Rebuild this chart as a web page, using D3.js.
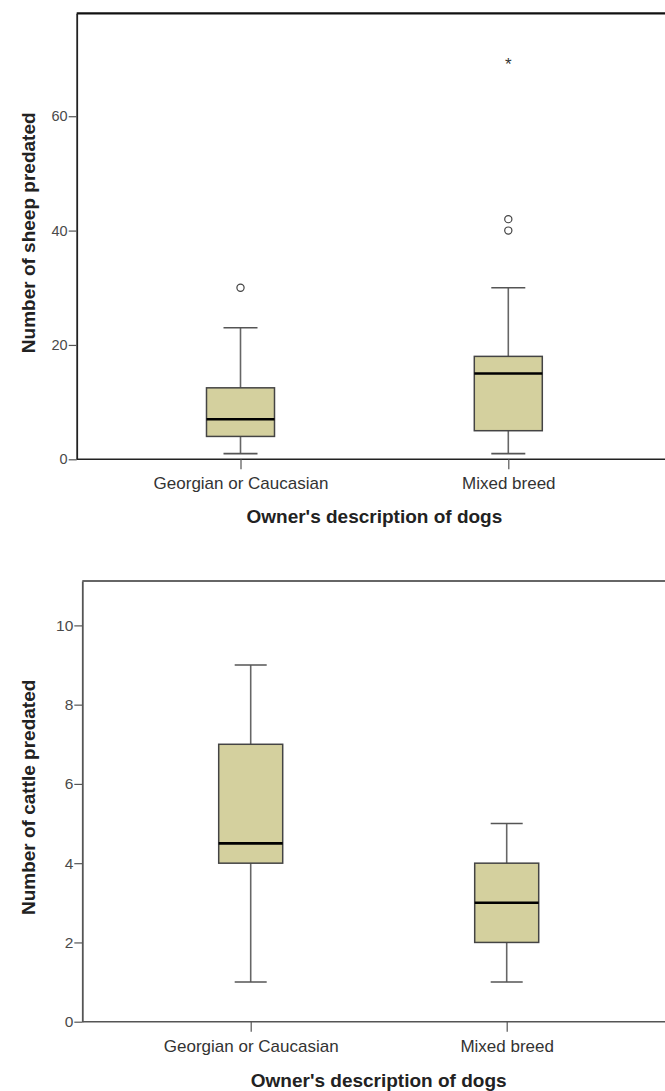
<!DOCTYPE html>
<html>
<head>
<meta charset="utf-8">
<script src="https://cdn.jsdelivr.net/npm/d3@7"></script>
<style>
  html, body { margin: 0; padding: 0; background: #fff; }
  svg { display: block; }
  text { font-family: "Liberation Sans", Arial, sans-serif; }
</style>
</head>
<body>
<svg id="chart" width="665" height="1091"></svg>
<script>
// ---------- data ----------
const categories = ["Georgian or Caucasian", "Mixed breed"];

// Chart 1: sheep predated
const sheepWhiskerLow  = [1, 1];
const sheepQ1          = [4, 5];
const sheepMedian      = [7, 15];
const sheepQ3          = [12.5, 18];
const sheepWhiskerHigh = [23, 30];
const sheepOutliers    = [[30], [40, 42]];
const sheepExtremes    = [[], [70]];
const sheepTicks       = [0, 20, 40, 60];

// Chart 2: cattle predated
const cattleWhiskerLow  = [1, 1];
const cattleQ1          = [4, 2];
const cattleMedian      = [4.5, 3];
const cattleQ3          = [7, 4];
const cattleWhiskerHigh = [9, 5];
const cattleOutliers    = [[], []];
const cattleExtremes    = [[], []];
const cattleTicks       = [0, 2, 4, 6, 8, 10];

const yTitleSheep  = "Number of sheep predated";
const yTitleCattle = "Number of cattle predated";
const xTitle       = "Owner's description of dogs";

// ---------- drawing ----------
const svg = d3.select("#chart");
const BOX_FILL = "#d4d09e";

function drawPanel(cfg) {
  const g = svg.append("g");
  const stats = categories.map((c, i) => ({
    cat: c,
    lo: cfg.lo[i], q1: cfg.q1[i], med: cfg.med[i], q3: cfg.q3[i], hi: cfg.hi[i],
    out: cfg.out[i], ext: cfg.ext[i]
  }));

  const y = d3.scaleLinear().domain(cfg.yDomain).range([cfg.bottom, cfg.top]);
  const x = d3.scalePoint().domain(categories).range(cfg.xCenters);

  // top frame line
  g.append("line")
    .attr("x1", cfg.left).attr("x2", 700)
    .attr("y1", cfg.top).attr("y2", cfg.top)
    .attr("stroke", cfg.frameColor).attr("stroke-width", cfg.frameWidth);

  // x axis baseline
  g.append("line")
    .attr("x1", cfg.left).attr("x2", 700)
    .attr("y1", cfg.bottom).attr("y2", cfg.bottom)
    .attr("stroke", cfg.axisColor).attr("stroke-width", 1.6);

  // y axis
  const yAxis = g.append("g")
    .attr("transform", `translate(${cfg.left},0)`)
    .call(d3.axisLeft(y).tickValues(cfg.ticks).tickSize(8).tickSizeOuter(0).tickPadding(1));
  yAxis.select(".domain").attr("stroke", cfg.axisColor).attr("stroke-width", 1.8);
  yAxis.selectAll(".tick line").attr("stroke", "#555").attr("stroke-width", 1.2);
  yAxis.selectAll(".tick text")
    .attr("fill", "#4a4a4a").attr("font-size", cfg.tickFont)
    .style("font-family", "'Liberation Sans', Arial, sans-serif");

  // x axis ticks + labels
  const xAxis = g.append("g")
    .attr("transform", `translate(0,${cfg.bottom})`)
    .call(d3.axisBottom(x).tickSize(10).tickPadding(8));
  xAxis.select(".domain").remove();
  xAxis.selectAll(".tick line").attr("stroke", "#555").attr("stroke-width", 1.2);
  xAxis.selectAll(".tick text")
    .attr("fill", "#333").attr("font-size", 17)
    .style("font-family", "'Liberation Sans', Arial, sans-serif");

  // axis titles
  g.append("text")
    .attr("transform", `translate(${cfg.yTitleX},${(cfg.top + cfg.bottom) / 2 + cfg.yTitleShift}) rotate(-90)`)
    .attr("text-anchor", "middle").attr("dy", "0.35em")
    .attr("font-size", 19).attr("font-weight", "bold").attr("fill", "#222")
    .text(cfg.yTitle);
  g.append("text")
    .attr("x", (cfg.xCenters[0] + cfg.xCenters[1]) / 2 + cfg.xTitleShift)
    .attr("y", cfg.bottom + cfg.xTitleOffset)
    .attr("text-anchor", "middle")
    .attr("font-size", 19).attr("font-weight", "bold").attr("fill", "#222")
    .text(xTitle);

  const bw = cfg.boxWidth, cw = cfg.capWidth;
  const boxes = g.selectAll("g.box").data(stats).join("g").attr("class", "box");

  // whiskers
  boxes.append("line")
    .attr("x1", d => x(d.cat)).attr("x2", d => x(d.cat))
    .attr("y1", d => y(d.lo)).attr("y2", d => y(d.q1))
    .attr("stroke", "#666").attr("stroke-width", 1.6);
  boxes.append("line")
    .attr("x1", d => x(d.cat)).attr("x2", d => x(d.cat))
    .attr("y1", d => y(d.q3)).attr("y2", d => y(d.hi))
    .attr("stroke", "#666").attr("stroke-width", 1.6);
  // caps
  boxes.append("line")
    .attr("x1", d => x(d.cat) - cw / 2).attr("x2", d => x(d.cat) + cw / 2)
    .attr("y1", d => y(d.lo)).attr("y2", d => y(d.lo))
    .attr("stroke", "#555").attr("stroke-width", 1.6);
  boxes.append("line")
    .attr("x1", d => x(d.cat) - cw / 2).attr("x2", d => x(d.cat) + cw / 2)
    .attr("y1", d => y(d.hi)).attr("y2", d => y(d.hi))
    .attr("stroke", "#555").attr("stroke-width", 1.6);
  // box
  boxes.append("rect")
    .attr("x", d => x(d.cat) - bw / 2).attr("width", bw)
    .attr("y", d => y(d.q3)).attr("height", d => y(d.q1) - y(d.q3))
    .attr("fill", BOX_FILL).attr("stroke", "#444").attr("stroke-width", 1.5);
  // median
  boxes.append("line")
    .attr("x1", d => x(d.cat) - bw / 2).attr("x2", d => x(d.cat) + bw / 2)
    .attr("y1", d => y(d.med)).attr("y2", d => y(d.med))
    .attr("stroke", "#000").attr("stroke-width", 2.6);
  // outliers
  boxes.selectAll("circle.out").data(d => d.out.map(v => ({cat: d.cat, v})))
    .join("circle").attr("class", "out")
    .attr("cx", d => x(d.cat)).attr("cy", d => y(d.v)).attr("r", 3.6)
    .attr("fill", "none").attr("stroke", "#444").attr("stroke-width", 1.2);
  // extremes
  boxes.selectAll("text.ext").data(d => d.ext.map(v => ({cat: d.cat, v})))
    .join("text").attr("class", "ext")
    .attr("x", d => x(d.cat)).attr("y", d => y(d.v))
    .attr("dy", "0.62em")
    .attr("text-anchor", "middle").attr("font-size", 17).attr("fill", "#333")
    .text("*");
}

drawPanel({
  lo: sheepWhiskerLow, q1: sheepQ1, med: sheepMedian, q3: sheepQ3, hi: sheepWhiskerHigh,
  out: sheepOutliers, ext: sheepExtremes, ticks: sheepTicks,
  yDomain: [0, 78], top: 13.3, bottom: 459.3, left: 76.7,
  xCenters: [240.5, 508.3], boxWidth: 68, capWidth: 34,
  frameColor: "#111", frameWidth: 2.2, axisColor: "#222",
  tickFont: 14.5, yTitle: yTitleSheep, yTitleX: 28, yTitleShift: -3.5,
  xTitleOffset: 64, xTitleShift: 0
});

drawPanel({
  lo: cattleWhiskerLow, q1: cattleQ1, med: cattleMedian, q3: cattleQ3, hi: cattleWhiskerHigh,
  out: cattleOutliers, ext: cattleExtremes, ticks: cattleTicks,
  yDomain: [0, 11.12], top: 581, bottom: 1021.7, left: 82.3,
  xCenters: [250.7, 506.7], boxWidth: 64, capWidth: 32,
  frameColor: "#666", frameWidth: 2, axisColor: "#555",
  tickFont: 15.5, yTitle: yTitleCattle, yTitleX: 28, yTitleShift: -4,
  xTitleOffset: 65, xTitleShift: 0
});
</script>
</body>
</html>
